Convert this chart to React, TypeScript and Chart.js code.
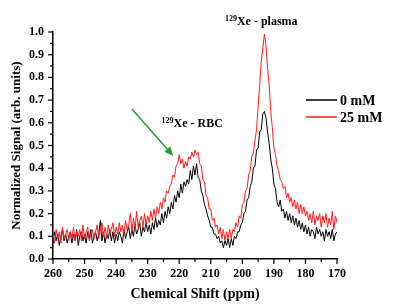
import React, { useEffect, useRef } from 'react';
import { Chart, registerables } from 'chart.js';

Chart.register(...registerables);

// Chemical shift grid (ppm), from 260 down to 170 in 0.5 ppm steps
const ppmStart = 260;
const ppmStep = 0.5;

const seriesNames = ['0 mM', '25 mM'];
const seriesColors = ['#000000', '#ff1a1a'];

// Normalized signal, 0 mM (black)
const signal0mM = [
  0.07, 0.12, 0.08, 0.11, 0.06, 0.10, 0.13, 0.08, 0.11, 0.07,
  0.10, 0.12, 0.07, 0.11, 0.08, 0.13, 0.06, 0.10, 0.12, 0.08,
  0.11, 0.07, 0.12, 0.09, 0.13, 0.07, 0.10, 0.12, 0.08, 0.11,
  0.17, 0.08, 0.12, 0.07, 0.11, 0.09, 0.13, 0.08, 0.12, 0.07,
  0.11,
  0.08, 0.12, 0.10, 0.07, 0.13, 0.09, 0.12, 0.14, 0.09, 0.13,
  0.10, 0.15, 0.11, 0.13, 0.16, 0.10, 0.14, 0.12, 0.16, 0.12,
  0.15, 0.11, 0.16, 0.13, 0.18, 0.14, 0.17, 0.15, 0.20, 0.16,
  0.21, 0.18, 0.23, 0.20, 0.25, 0.22, 0.28, 0.25, 0.30, 0.27,
  0.33, 0.29, 0.34, 0.32, 0.35, 0.33, 0.39, 0.35, 0.41, 0.37,
  0.42, 0.36, 0.35, 0.30, 0.28, 0.24, 0.22, 0.19, 0.17, 0.14,
  0.14, 0.11, 0.11, 0.09, 0.10, 0.07, 0.08, 0.05, 0.08, 0.06,
  0.09, 0.05, 0.09, 0.06, 0.10, 0.09, 0.12, 0.12, 0.15, 0.16,
  0.20, 0.21, 0.26, 0.27, 0.32, 0.34, 0.40, 0.41, 0.48, 0.49,
  0.56, 0.57, 0.64, 0.65, 0.62, 0.56, 0.51, 0.44, 0.40, 0.33,
  0.31, 0.25, 0.23, 0.26, 0.21, 0.22, 0.18, 0.21, 0.17, 0.20,
  0.16, 0.19, 0.15, 0.18, 0.14, 0.17, 0.13, 0.16, 0.12, 0.15,
  0.11, 0.14, 0.10, 0.13, 0.12, 0.09, 0.14, 0.11, 0.13, 0.10,
  0.12, 0.08, 0.13, 0.10, 0.12, 0.09, 0.13, 0.08, 0.11, 0.12,
];

// Normalized signal, 25 mM (red)
const signal25mM = [
  0.11, 0.07, 0.13, 0.09, 0.12, 0.07, 0.14, 0.09, 0.11, 0.13,
  0.08, 0.12, 0.09, 0.14, 0.08, 0.12, 0.10, 0.13, 0.08, 0.15,
  0.09, 0.12, 0.14, 0.08, 0.11, 0.13, 0.09, 0.12, 0.15, 0.09,
  0.13, 0.16, 0.10, 0.14, 0.09, 0.15, 0.11, 0.13, 0.16, 0.10,
  0.14,
  0.11, 0.16, 0.12, 0.15, 0.11, 0.17, 0.13, 0.15, 0.20, 0.12,
  0.18, 0.13, 0.21, 0.14, 0.17, 0.19, 0.14, 0.20, 0.15, 0.19,
  0.16, 0.21, 0.17, 0.22, 0.18, 0.23, 0.20, 0.25, 0.22, 0.27,
  0.25, 0.30, 0.29, 0.32, 0.33, 0.37, 0.36, 0.41, 0.42, 0.46,
  0.42, 0.44, 0.40, 0.43, 0.41, 0.45, 0.44, 0.47, 0.45, 0.48,
  0.46, 0.47, 0.42, 0.41, 0.35, 0.34, 0.28, 0.27, 0.22, 0.22,
  0.17, 0.18, 0.14, 0.15, 0.11, 0.14, 0.09, 0.13, 0.08, 0.12,
  0.09, 0.13, 0.09, 0.13, 0.12, 0.16, 0.14, 0.19, 0.18, 0.24,
  0.25, 0.30, 0.31, 0.37, 0.39, 0.45, 0.47, 0.52, 0.57, 0.67,
  0.77, 0.87, 0.93, 0.99, 0.94, 0.84, 0.77, 0.65, 0.58, 0.49,
  0.46, 0.41, 0.39, 0.35, 0.34, 0.31, 0.32, 0.27, 0.29, 0.25,
  0.27, 0.23, 0.26, 0.22, 0.25, 0.20, 0.24, 0.20, 0.23, 0.19,
  0.21, 0.17, 0.20, 0.16, 0.21, 0.15, 0.19, 0.17, 0.20, 0.14,
  0.19, 0.16, 0.20, 0.14, 0.18, 0.15, 0.21, 0.13, 0.19, 0.16,
];

const xMin = 170;
const xMax = 260;
const xMajorStep = 10;
const xMinorStep = 5;
const yMin = 0;
const yMax = 1;
const yMajorStep = 0.1;
const yMinorStep = 0.05;

const xTitle = 'Chemical Shift (ppm)';
const yTitle = 'Normalized Signal (arb. units)';
const plasmaLabel = { sup: '129', main: 'Xe - plasma', ppm: 194, y: 1.03 };
const rbcLabel = { sup: '129', main: 'Xe - RBC', ppm: 215.9, y: 0.583 };
const arrowFrom = { ppm: 235.0, y: 0.661 };
const arrowTo = { ppm: 221.9, y: 0.454 };

const FONT = '"Liberation Serif", "Times New Roman", serif';

function toPoints(values: number[]) {
  return values.map((v, i) => ({ x: ppmStart - i * ppmStep, y: v }));
}

const overlayPlugin = {
  id: 'overlay',
  afterDraw(chart: any) {
    const ctx: CanvasRenderingContext2D = chart.ctx;
    const xs = chart.scales.x;
    const ys = chart.scales.y;
    const area = chart.chartArea;
    ctx.save();
    ctx.strokeStyle = '#000';
    ctx.lineWidth = 1.2;
    // x ticks (major + minor)
    for (let k = 0; k * xMinorStep <= xMax - xMin + 1e-9; k++) {
      const v = xMin + k * xMinorStep;
      const px = xs.getPixelForValue(v);
      const major = Math.abs((v - xMin) % xMajorStep) < 1e-6;
      const len = major ? 5 : 3;
      ctx.beginPath();
      ctx.moveTo(px, area.bottom);
      ctx.lineTo(px, area.bottom + len);
      ctx.stroke();
    }
    // y ticks
    const nY = Math.round((yMax - yMin) / yMinorStep);
    for (let k = 0; k <= nY; k++) {
      const v = yMin + k * yMinorStep;
      const py = ys.getPixelForValue(v);
      const len = k % 2 === 0 ? 5 : 3;
      ctx.beginPath();
      ctx.moveTo(area.left, py);
      ctx.lineTo(area.left - len, py);
      ctx.stroke();
    }

    // axis titles
    ctx.fillStyle = '#000';
    ctx.textAlign = 'center';
    ctx.textBaseline = 'alphabetic';
    ctx.font = `bold 14px ${FONT}`;
    ctx.fillText(xTitle, (area.left + area.right) / 2, 298);
    ctx.font = `bold 13px ${FONT}`;
    ctx.save();
    ctx.translate(20, (area.top + area.bottom) / 2);
    ctx.rotate(-Math.PI / 2);
    ctx.fillText(yTitle, 0, 0);
    ctx.restore();

    // labels with superscripts
    const drawSupLabel = (lab: { sup: string; main: string; ppm: number; y: number }) => {
      ctx.font = `bold 8px ${FONT}`;
      const wSup = ctx.measureText(lab.sup).width;
      ctx.font = `bold 12px ${FONT}`;
      const wMain = ctx.measureText(lab.main).width;
      const cx = xs.getPixelForValue(lab.ppm);
      const by = ys.getPixelForValue(lab.y);
      const x0 = cx - (wSup + wMain) / 2;
      ctx.textAlign = 'left';
      ctx.font = `bold 8px ${FONT}`;
      ctx.fillText(lab.sup, x0, by - 4);
      ctx.font = `bold 12px ${FONT}`;
      ctx.fillText(lab.main, x0 + wSup, by);
    };
    drawSupLabel(plasmaLabel);
    drawSupLabel(rbcLabel);

    // green arrow
    const ax0 = xs.getPixelForValue(arrowFrom.ppm);
    const ay0 = ys.getPixelForValue(arrowFrom.y);
    const ax1 = xs.getPixelForValue(arrowTo.ppm);
    const ay1 = ys.getPixelForValue(arrowTo.y);
    const ang = Math.atan2(ay1 - ay0, ax1 - ax0);
    const headLen = 9;
    const headW = 4;
    ctx.strokeStyle = '#2f9a2f';
    ctx.fillStyle = '#2f9a2f';
    ctx.lineWidth = 1.6;
    ctx.beginPath();
    ctx.moveTo(ax0, ay0);
    ctx.lineTo(ax1 - Math.cos(ang) * headLen * 0.8, ay1 - Math.sin(ang) * headLen * 0.8);
    ctx.stroke();
    ctx.beginPath();
    ctx.moveTo(ax1, ay1);
    ctx.lineTo(
      ax1 - Math.cos(ang) * headLen - Math.sin(ang) * headW,
      ay1 - Math.sin(ang) * headLen + Math.cos(ang) * headW
    );
    ctx.lineTo(
      ax1 - Math.cos(ang) * headLen + Math.sin(ang) * headW,
      ay1 - Math.sin(ang) * headLen - Math.cos(ang) * headW
    );
    ctx.closePath();
    ctx.fill();

    // legend
    const lx0 = area.right - 31;
    const lx1 = area.right;
    const ly = [100, 117];
    ctx.font = `bold 14px ${FONT}`;
    ctx.textAlign = 'left';
    ctx.textBaseline = 'middle';
    seriesNames.forEach((name, i) => {
      ctx.strokeStyle = seriesColors[i];
      ctx.lineWidth = 1.5;
      ctx.beginPath();
      ctx.moveTo(lx0, ly[i]);
      ctx.lineTo(lx1, ly[i]);
      ctx.stroke();
      ctx.fillStyle = '#000';
      ctx.fillText(name, lx1 + 3, ly[i] + 1);
    });
    ctx.restore();
  },
};

export default function App() {
  const canvasRef = useRef<HTMLCanvasElement | null>(null);

  useEffect(() => {
    if (!canvasRef.current) return;
    const chart = new Chart(canvasRef.current, {
      type: 'line',
      data: {
        datasets: [
          {
            label: seriesNames[1],
            data: toPoints(signal25mM),
            borderColor: seriesColors[1],
            borderWidth: 1,
            pointRadius: 0,
            tension: 0,
            fill: false,
            order: 1,
          },
          {
            label: seriesNames[0],
            data: toPoints(signal0mM),
            borderColor: seriesColors[0],
            borderWidth: 1,
            pointRadius: 0,
            tension: 0,
            fill: false,
            order: 2,
          },
        ],
      },
      options: {
        responsive: false,
        animation: false,
        devicePixelRatio: 1,
        layout: { padding: { left: 0, right: 63, top: 32, bottom: 0 } },
        plugins: {
          legend: { display: false },
          tooltip: { enabled: false },
        },
        scales: {
          x: {
            type: 'linear',
            reverse: true,
            min: xMin,
            max: xMax,
            grid: { display: false, drawTicks: false },
            border: { display: true, color: '#000', width: 1.5 },
            ticks: {
              stepSize: xMajorStep,
              color: '#000',
              padding: 8,
              font: { family: FONT, size: 12, weight: 'bold' },
              maxRotation: 0,
            },
            afterFit: (s: any) => {
              s.height = 45;
            },
          },
          y: {
            min: yMin,
            max: yMax,
            grid: { display: false, drawTicks: false },
            border: { display: true, color: '#000', width: 1.5 },
            ticks: {
              stepSize: yMajorStep,
              color: '#000',
              padding: 9,
              font: { family: FONT, size: 12, weight: 'bold' },
              callback: (v: any) => Number(v).toFixed(1),
            },
            afterFit: (s: any) => {
              s.width = 53;
            },
          },
        },
      },
      plugins: [overlayPlugin],
    } as any);
    return () => chart.destroy();
  }, []);

  return (
    <div style={{ position: 'absolute', left: 0, top: 0, width: 400, height: 304, background: '#fff' }}>
      <canvas ref={canvasRef} width={400} height={304} />
    </div>
  );
}
